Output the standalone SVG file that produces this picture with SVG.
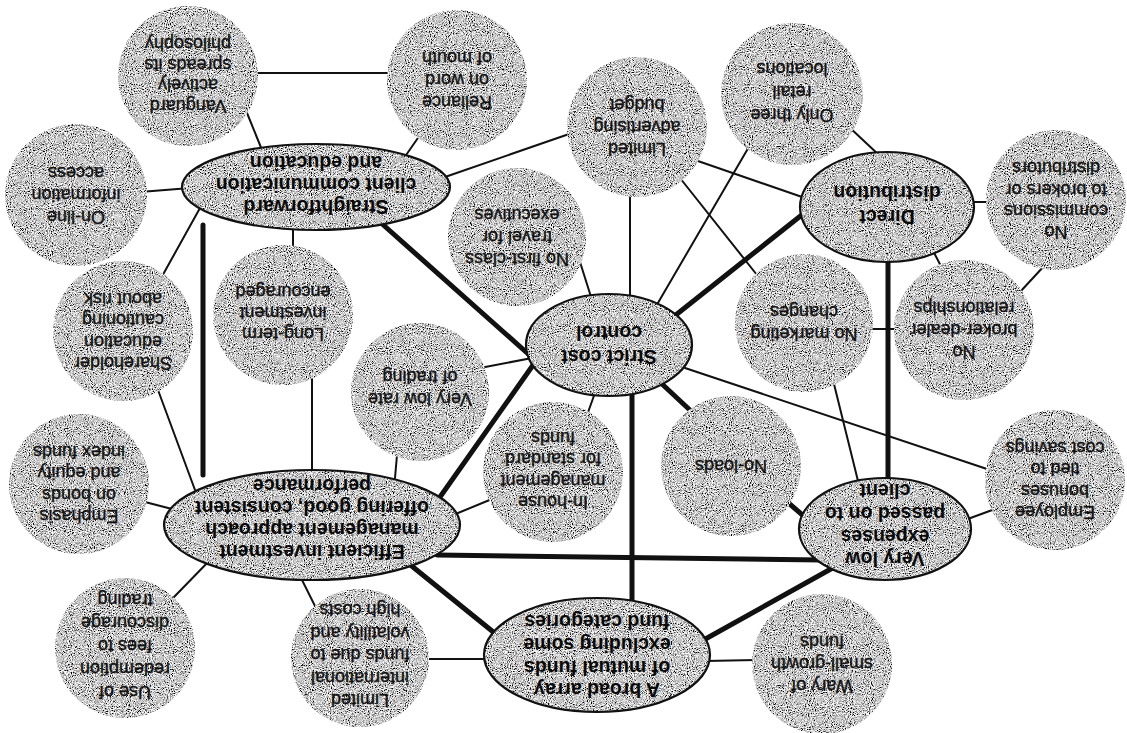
<svg xmlns="http://www.w3.org/2000/svg" width="1127" height="733" viewBox="0 0 1127 733">
<style>
.bg{fill:#ffffff}
.tx{fill:#999999;filter:url(#grain)}
.el{fill:none;stroke:#111;stroke-width:2.2}
.ln{stroke:#111;stroke-width:2;fill:none;stroke-linecap:round}
.tk{stroke:#111;stroke-width:5;fill:none;stroke-linecap:round}
.c{font-family:"Liberation Sans",Arial,sans-serif;font-size:18px;fill:#111;stroke:#111;stroke-width:0.35;text-anchor:middle;dominant-baseline:central}
.e{font-family:"Liberation Sans",Arial,sans-serif;font-size:19.5px;font-weight:bold;fill:#0a0a0a;text-anchor:middle;dominant-baseline:central}
</style>
<defs>
<filter id="grain" x="-5%" y="-5%" width="110%" height="110%">
<feTurbulence type="fractalNoise" baseFrequency="0.95" numOctaves="2" seed="5" result="t"/>
<feColorMatrix in="t" type="matrix" values="2.6 0 0 0 -0.72  2.6 0 0 0 -0.72  2.6 0 0 0 -0.72  0 0 0 0 1" result="g"/>
<feComposite in="g" in2="SourceAlpha" operator="in"/>
</filter>
</defs>
<rect class="bg" x="0" y="0" width="1127" height="733"/>
<g id="connectors">
<line class="ln" x1="245" y1="108" x2="262" y2="150"/>
<line class="ln" x1="250" y1="73" x2="395" y2="73"/>
<line class="ln" x1="420" y1="135" x2="404" y2="158"/>
<line class="ln" x1="140" y1="192" x2="190" y2="188"/>
<line class="ln" x1="160" y1="280" x2="200" y2="208"/>
<line class="ln" x1="293" y1="225" x2="293" y2="250"/>
<line class="ln" x1="572" y1="133" x2="445" y2="177"/>
<line class="ln" x1="580" y1="262" x2="592" y2="300"/>
<line class="ln" x1="630" y1="195" x2="630" y2="300"/>
<line class="ln" x1="750" y1="145" x2="655" y2="308"/>
<line class="ln" x1="680" y1="178" x2="757" y2="275"/>
<line class="ln" x1="695" y1="160" x2="805" y2="198"/>
<line class="ln" x1="848" y1="126" x2="880" y2="156"/>
<line class="ln" x1="970" y1="202" x2="992" y2="202"/>
<line class="ln" x1="930" y1="245" x2="943" y2="270"/>
<line class="ln" x1="1045" y1="265" x2="1020" y2="292"/>
<line class="ln" x1="870" y1="329" x2="898" y2="329"/>
<line class="ln" x1="833" y1="380" x2="859" y2="485"/>
<line class="ln" x1="685" y1="368" x2="990" y2="470"/>
<line class="ln" x1="480" y1="368" x2="532" y2="358"/>
<line class="ln" x1="586" y1="418" x2="596" y2="390"/>
<line class="ln" x1="397" y1="455" x2="395" y2="478"/>
<line class="ln" x1="312" y1="375" x2="312" y2="475"/>
<line class="ln" x1="158" y1="390" x2="195" y2="490"/>
<line class="ln" x1="145" y1="502" x2="172" y2="509"/>
<line class="ln" x1="458" y1="513" x2="492" y2="499"/>
<line class="ln" x1="212" y1="558" x2="174" y2="597"/>
<line class="ln" x1="300" y1="576" x2="316" y2="608"/>
<line class="ln" x1="425" y1="659" x2="488" y2="659"/>
<line class="ln" x1="705" y1="661" x2="756" y2="660"/>
<line class="ln" x1="965" y1="520" x2="995" y2="509"/>
<line class="tk" x1="203" y1="225" x2="203" y2="475"/>
<line class="tk" x1="380" y1="222" x2="535" y2="360"/>
<line class="tk" x1="672" y1="318" x2="808" y2="210"/>
<line class="tk" x1="888" y1="255" x2="888" y2="485"/>
<line class="tk" x1="662" y1="384" x2="692" y2="412"/>
<line class="tk" x1="538" y1="358" x2="440" y2="497"/>
<line class="tk" x1="632" y1="390" x2="632" y2="603"/>
<line class="tk" x1="437" y1="555" x2="822" y2="560"/>
<line class="tk" x1="408" y1="563" x2="497" y2="635"/>
<line class="tk" x1="700" y1="642" x2="838" y2="565"/>
<line class="tk" x1="785" y1="500" x2="806" y2="518"/>
</g>
<g id="n-straightforward"><ellipse class="tx" cx="316" cy="187" rx="134" ry="43"/><ellipse class="el" cx="316" cy="187" rx="134" ry="43"/>
<text class="e" transform="rotate(180 316 185)"><tspan x="316" y="163">Straightforward</tspan><tspan x="316" y="185">client communication</tspan><tspan x="316" y="207">and education</tspan></text></g>
<g id="n-strict"><ellipse class="tx" cx="609" cy="345" rx="83" ry="51"/><ellipse class="el" cx="609" cy="345" rx="83" ry="51"/>
<text class="e" transform="rotate(180 609 345)"><tspan x="609" y="333">Strict cost</tspan><tspan x="609" y="357">control</tspan></text></g>
<g id="n-direct"><ellipse class="tx" cx="887" cy="207" rx="87" ry="55"/><ellipse class="el" cx="887" cy="207" rx="87" ry="55"/>
<text class="e" transform="rotate(180 887 205)"><tspan x="887" y="193">Direct</tspan><tspan x="887" y="217">distribution</tspan></text></g>
<g id="n-verylow"><ellipse class="tx" cx="885" cy="529" rx="86" ry="51"/><ellipse class="el" cx="885" cy="529" rx="86" ry="51"/>
<text class="e" transform="rotate(180 885 525)"><tspan x="885" y="491">Very low</tspan><tspan x="885" y="513.5">expenses</tspan><tspan x="885" y="536.5">passed on to</tspan><tspan x="885" y="559">client</tspan></text></g>
<g id="n-broad"><ellipse class="tx" cx="597" cy="655" rx="113" ry="57"/><ellipse class="el" cx="597" cy="655" rx="113" ry="57"/>
<text class="e" transform="rotate(180 597 656)"><tspan x="597" y="622">A broad array</tspan><tspan x="597" y="644.5">of mutual funds</tspan><tspan x="597" y="667.5">excluding some</tspan><tspan x="597" y="690">fund categories</tspan></text></g>
<g id="n-efficient"><ellipse class="tx" cx="312" cy="525" rx="148" ry="55"/><ellipse class="el" cx="312" cy="525" rx="148" ry="55"/>
<text class="e" transform="rotate(180 312 519)"><tspan x="312" y="486">Efficient investment</tspan><tspan x="312" y="508">management approach</tspan><tspan x="312" y="530">offering good, consistent</tspan><tspan x="312" y="552">performance</tspan></text></g>
<g id="n-vanguard"><circle class="tx" cx="188" cy="76" r="70"/>
<text class="c" transform="rotate(180 188 75)"><tspan x="188" y="44">Vanguard</tspan><tspan x="188" y="65">actively</tspan><tspan x="188" y="85">spreads its</tspan><tspan x="188" y="106">philosophy</tspan></text></g>
<g id="n-reliance"><circle class="tx" cx="457" cy="80" r="70"/>
<text class="c" transform="rotate(180 457 80)"><tspan x="457" y="58">Reliance</tspan><tspan x="457" y="80">on word</tspan><tspan x="457" y="102">of mouth</tspan></text></g>
<g id="n-advertising"><circle class="tx" cx="637" cy="127" r="70"/>
<text class="c" transform="rotate(180 637 127)"><tspan x="637" y="105">Limited</tspan><tspan x="637" y="127">advertising</tspan><tspan x="637" y="149">budget</tspan></text></g>
<g id="n-retail"><circle class="tx" cx="792" cy="94" r="71"/>
<text class="c" transform="rotate(180 792 92)"><tspan x="792" y="69">Only three</tspan><tspan x="792" y="92">retail</tspan><tspan x="792" y="115">locations</tspan></text></g>
<g id="n-commissions"><circle class="tx" cx="1056" cy="200" r="70"/>
<text class="c" transform="rotate(180 1056 200)"><tspan x="1056" y="168">No</tspan><tspan x="1056" y="189.5">commissions</tspan><tspan x="1056" y="210.5">to brokers or</tspan><tspan x="1056" y="232">distributors</tspan></text></g>
<g id="n-brokerdealer"><circle class="tx" cx="964" cy="330" r="70"/>
<text class="c" transform="rotate(180 964 330)"><tspan x="964" y="308">No</tspan><tspan x="964" y="330">broker-dealer</tspan><tspan x="964" y="352">relationships</tspan></text></g>
<g id="n-marketing"><circle class="tx" cx="804" cy="323" r="69"/>
<text class="c" transform="rotate(180 804 323)"><tspan x="804" y="312">No marketing</tspan><tspan x="804" y="334">changes</tspan></text></g>
<g id="n-travel"><circle class="tx" cx="517" cy="237" r="69"/>
<text class="c" transform="rotate(180 517 237)"><tspan x="517" y="215">No first-class</tspan><tspan x="517" y="237">travel for</tspan><tspan x="517" y="259">executives</tspan></text></g>
<g id="n-online"><circle class="tx" cx="76" cy="195" r="71"/>
<text class="c" transform="rotate(180 76 195)"><tspan x="76" y="173">On-line</tspan><tspan x="76" y="195">information</tspan><tspan x="76" y="217">access</tspan></text></g>
<g id="n-shareholder"><circle class="tx" cx="123" cy="331" r="70"/>
<text class="c" transform="rotate(180 123 331)"><tspan x="123" y="299">Shareholder</tspan><tspan x="123" y="320">education</tspan><tspan x="123" y="342">cautioning</tspan><tspan x="123" y="363">about risk</tspan></text></g>
<g id="n-longterm"><circle class="tx" cx="283" cy="315" r="70"/>
<text class="c" transform="rotate(180 283 313)"><tspan x="283" y="292">Long-term</tspan><tspan x="283" y="313">investment</tspan><tspan x="283" y="334">encouraged</tspan></text></g>
<g id="n-trading"><circle class="tx" cx="420" cy="392" r="69"/>
<text class="c" transform="rotate(180 420 388)"><tspan x="420" y="377">Very low rate</tspan><tspan x="420" y="399">of trading</tspan></text></g>
<g id="n-inhouse"><circle class="tx" cx="553" cy="472" r="70"/>
<text class="c" transform="rotate(180 553 470)"><tspan x="553" y="438">In-house</tspan><tspan x="553" y="459">management</tspan><tspan x="553" y="481">for standard</tspan><tspan x="553" y="502">funds</tspan></text></g>
<g id="n-noloads"><circle class="tx" cx="731" cy="466" r="70"/>
<text class="c" transform="rotate(180 731 466)"><tspan x="731" y="466">No-loads</tspan></text></g>
<g id="n-employee"><circle class="tx" cx="1055" cy="480" r="70"/>
<text class="c" transform="rotate(180 1055 480)"><tspan x="1055" y="448">Employee</tspan><tspan x="1055" y="469">bonuses</tspan><tspan x="1055" y="491">tied to</tspan><tspan x="1055" y="512">cost savings</tspan></text></g>
<g id="n-emphasis"><circle class="tx" cx="79" cy="484" r="70"/>
<text class="c" transform="rotate(180 79 484)"><tspan x="79" y="452">Emphasis</tspan><tspan x="79" y="473">on bonds</tspan><tspan x="79" y="495">and equity</tspan><tspan x="79" y="516">index funds</tspan></text></g>
<g id="n-redemption"><circle class="tx" cx="125" cy="648" r="70"/>
<text class="c" transform="rotate(180 125 646)"><tspan x="125" y="600">Use of</tspan><tspan x="125" y="623">redemption</tspan><tspan x="125" y="646">fees to</tspan><tspan x="125" y="669">discourage</tspan><tspan x="125" y="692">trading</tspan></text></g>
<g id="n-international"><circle class="tx" cx="360" cy="658" r="69"/>
<text class="c" transform="rotate(180 360 655)"><tspan x="360" y="610">Limited</tspan><tspan x="360" y="632.5">international</tspan><tspan x="360" y="655">funds due to</tspan><tspan x="360" y="677.5">volatility and</tspan><tspan x="360" y="700">high costs</tspan></text></g>
<g id="n-wary"><circle class="tx" cx="822" cy="664" r="70"/>
<text class="c" transform="rotate(180 822 664)"><tspan x="822" y="642">Wary of</tspan><tspan x="822" y="664">small-growth</tspan><tspan x="822" y="686">funds</tspan></text></g>
</svg>
